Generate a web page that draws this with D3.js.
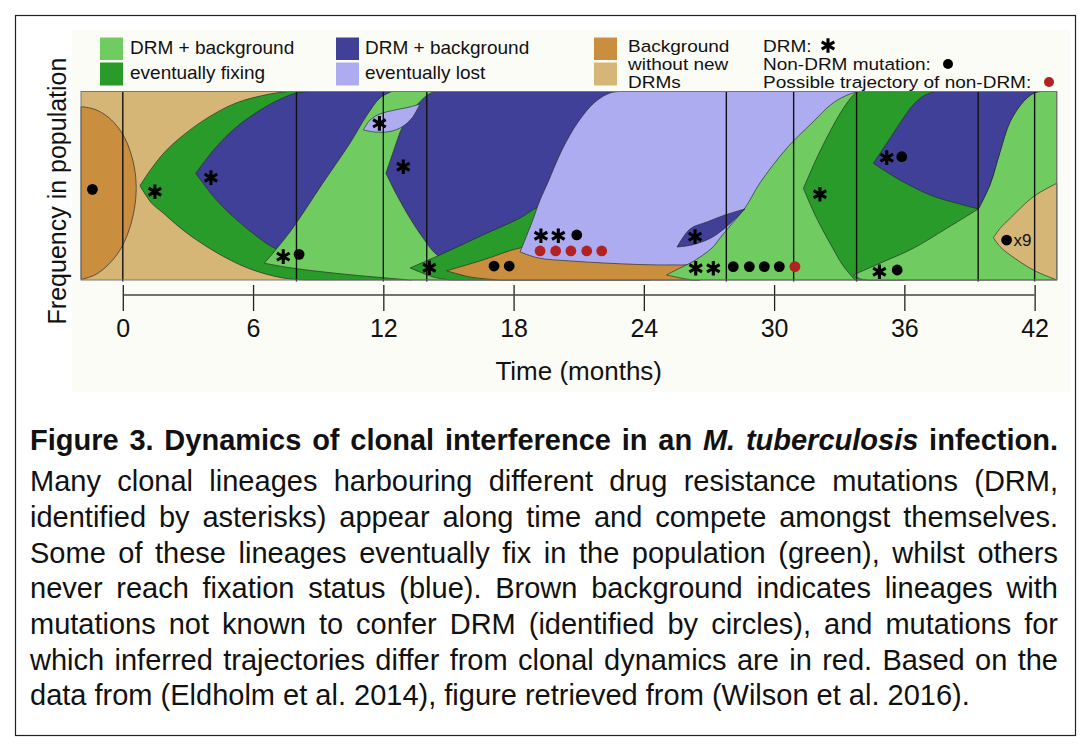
<!DOCTYPE html>
<html><head><meta charset="utf-8">
<script src="https://cdn.jsdelivr.net/npm/d3@7"></script>
<style>
html,body{margin:0;padding:0;background:#fff;}
body{width:1089px;height:746px;overflow:hidden;font-family:"Liberation Sans",Arial,Helvetica,sans-serif;}
svg{display:block;}
</style></head><body>
<svg id="chart" width="1089" height="746"></svg>
<script>
// ---------------- DATA (time in months, frequency 0..1) ----------------
const timeDomain = [-1.925, 43.02];
const tickValues = [0, 6, 12, 18, 24, 30, 36, 42];
const sampleTimes = [0, 8, 12, 14, 27.8, 30.9, 33.8, 39.4, 42];

const colLightGreen = "#70cc60", colDarkGreen = "#289b2a", colDarkBlue = "#404098",
      colLavender = "#aeacf0", colBrown = "#c98f3f", colTan = "#d6b676", colRed = "#b22222";

// each clone: list of boundary segments ("L" = straight segment)
const cloneBrown0 = [
  [[-1.925,0.92],[-1.28,0.905],[-0.68,0.865],[-0.13,0.796],[0.24,0.716],[0.47,0.631],[0.585,0.557],[0.62,0.488]],
  [[0.62,0.488],[0.585,0.419],[0.47,0.34],[0.24,0.249],[-0.13,0.159],[-0.68,0.08],[-1.28,0.027],[-1.925,0.003]],
  ["L",[-1.925,0.003],[-1.925,0.92]]
];
const cloneGreenA = [
  [[0.79,0.5],[1.33,0.593],[2.1,0.699],[3.63,0.84],[5.17,0.937],[6.7,0.985],[7.62,1]],
  ["L",[7.62,1],[13.3,1],[13.3,0],[8.39,0]],
  [[8.39,0],[7.32,0.012],[5.78,0.062],[4.25,0.15],[2.87,0.256],[1.79,0.362],[1.33,0.407],[0.79,0.5]]
];
const cloneBlueB = [
  [[3.36,0.566],[4.25,0.699],[5.17,0.805],[6.09,0.884],[7.01,0.946],[7.93,0.99],[8.62,1]],
  ["L",[8.62,1],[12.4,1],[12.4,0.117]],
  [[12.4,0.117],[10.0,0.117],[8.16,0.133],[7.01,0.168],[6.09,0.239],[5.17,0.327],[4.25,0.433],[3.36,0.566]]
];
const cloneGreenC = [
  [[6.52,0.089],[7.7,0.255],[9.22,0.515],[10.47,0.727],[11.25,0.875],[11.85,0.966],[12.4,1]],
  ["L",[12.4,1],[24.3,1],[24.3,0],[13.23,0]],
  [[13.23,0],[12.0,0.012],[10.47,0.028],[9.08,0.045],[7.7,0.065],[6.52,0.089]]
];
const cloneBlueE = [
  [[12.12,0.566],[12.46,0.681],[12.92,0.822],[13.54,0.928],[14.15,0.99],[14.47,1]],
  ["L",[14.47,1],[24.3,1],[24.3,0.053]],
  [[24.3,0.053],[18.37,0.053],[15.53,0.074],[14.47,0.133],[13.84,0.221],[13.23,0.327],[12.62,0.451],[12.12,0.566]]
];
const cloneLavenderD = [
  [[11.08,0.796],[11.39,0.849],[11.85,0.881],[12.54,0.902],[13.23,0.918],[13.69,0.934]],
  [[13.69,0.934],[13.32,0.859],[12.86,0.812],[12.31,0.788],[11.62,0.785],[11.08,0.796]]
];
const cloneGreenF = [
  [[13.23,0.064],[14.61,0.133],[16.59,0.239],[18.3,0.329],[19.13,0.387],[20.14,0.424],[26.59,0.424]],
  ["L",[26.59,0.424],[26.59,0],[15.07,0]],
  [[15.07,0],[14.29,0.016],[13.69,0.042],[13.23,0.064]]
];
const cloneBrownG = [
  [[14.92,0.049],[16.59,0.106],[18.3,0.17],[20.14,0.191],[26.59,0.191]],
  ["L",[26.59,0.191],[26.59,0],[17.37,0]],
  [[17.37,0],[15.99,0.016],[14.92,0.049]]
];
const cloneLavenderH = [
  [[18.3,0.149],[18.85,0.308],[19.22,0.424],[19.59,0.52],[20.23,0.69],[20.97,0.838],[21.75,0.944],[22.44,0.992],[22.9,1]],
  ["L",[22.9,1],[34.42,1],[34.42,0.69]],
  [[34.42,0.69],[29.35,0.318],[27.51,0.159],[26.13,0.085],[25.3,0.08],[23.82,0.082],[22.21,0.09],[20.6,0.101],[19.13,0.117],[18.3,0.149]]
];
const cloneGreenK = [
  [[25.05,0.027],[25.67,0.064],[26.22,0.095],[27.14,0.17],[27.51,0.223],[28.01,0.292],[28.66,0.382],[29.35,0.515],[30.59,0.7],[31.79,0.838],[32.71,0.939],[33.5,0.987],[33.96,1]],
  ["L",[33.96,1],[36,1],[36,0],[26.22,0]],
  [[26.22,0],[25.67,0.011],[25.05,0.027]]
];
const cloneBlueI = [
  [[25.53,0.175],[26.13,0.271],[26.91,0.308],[27.74,0.345],[28.66,0.377]],
  [[28.66,0.377],[28.34,0.34],[27.74,0.276],[27.09,0.223],[26.22,0.186],[25.53,0.175]]
];
const cloneGreenJ = [
  [[31.35,0.486],[31.96,0.646],[32.57,0.787],[33.19,0.911],[33.65,0.981],[33.86,1]],
  ["L",[33.86,1],[40.4,1],[40.4,0],[33.73,0]],
  [[33.73,0],[33.19,0.074],[32.57,0.196],[31.96,0.327],[31.35,0.486]]
];
const cloneGreenL = [
  [[33.65,0.027],[34.88,0.089],[36.41,0.168],[37.95,0.274],[39.41,0.377]],
  [[39.41,0.377],[39.94,0.504],[40.41,0.681],[40.87,0.84],[41.48,0.946],[41.94,0.99],[42.25,1]],
  ["L",[42.25,1],[43.02,1],[43.02,0],[34.42,0]],
  [[34.42,0],[34.0,0.005],[33.65,0.027]]
];
const cloneBlueM = [
  [[34.57,0.619],[35.2,0.727],[35.8,0.833],[36.4,0.928],[36.95,0.981],[37.41,1]],
  ["L",[37.41,1],[42.25,1]],
  [[42.25,1],[41.94,0.99],[41.48,0.946],[40.87,0.84],[40.41,0.681],[39.94,0.504],[39.41,0.377]],
  [[39.41,0.377],[38.71,0.398],[37.18,0.451],[35.65,0.54],[34.57,0.619]]
];
const cloneTanN = [
  [[40.1,0.224],[40.41,0.274],[40.87,0.327],[41.94,0.442],[43.02,0.513]],
  ["L",[43.02,0.513],[43.02,0]],
  [[43.02,0],[41.94,0.053],[40.87,0.133],[40.41,0.177],[40.1,0.224]]
];

const drmStars = [[1.48,0.468],[4.06,0.543],[7.39,0.124],[11.82,0.831],[12.92,0.601],[14.12,0.065],
  [19.26,0.235],[20.06,0.235],[26.36,0.23],[26.39,0.062],[27.2,0.062],[32.11,0.455],[35.19,0.649],[34.85,0.044]];
const nonDrmDots = [[-1.4,0.481],[8.12,0.136],[17.1,0.074],[17.8,0.074],[20.91,0.239],[28.12,0.071],[28.86,0.071],
  [29.55,0.071],[30.24,0.071],[35.88,0.654],[35.67,0.053],[40.71,0.212]];
const redDots = [[19.22,0.154],[19.94,0.154],[20.64,0.154],[21.37,0.154],[22.06,0.154],[30.96,0.071]];
const multiplierLabel = {t:40.71, f:0.212, text:"x9"};

const legendColors = [colLightGreen, colDarkGreen, colDarkBlue, colLavender, colBrown, colTan];
const legendLabels = [["DRM + background","eventually fixing"],["DRM + background","eventually lost"],["Background","without new","DRMs"]];
const symbolLabels = ["DRM:","Non-DRM mutation:","Possible trajectory of non-DRM:"];
const yTitle = "Frequency in population";
const xTitle = "Time (months)";
const captionLines = [
  [["Figure 3. Dynamics of clonal interference in an ","b"],["M. tuberculosis","bi"],[" infection.","b"]],
  [["Many clonal lineages harbouring different drug resistance mutations (DRM,","n"]],
  [["identified by asterisks) appear along time and compete amongst themselves.","n"]],
  [["Some of these lineages eventually fix in the population (green), whilst others","n"]],
  [["never reach fixation status (blue). Brown background indicates lineages with","n"]],
  [["mutations not known to confer DRM (identified by circles), and mutations for","n"]],
  [["which inferred trajectories differ from clonal dynamics are in red. Based on the","n"]],
  [["data from (Eldholm et al. 2014), figure retrieved from (Wilson et al. 2016).","n"]]
];

// ---------------- DRAWING ----------------
const svg = d3.select("#chart");
const FONT = "'Liberation Sans', Arial, Helvetica, sans-serif";
svg.attr("font-family", FONT);

// figure frame & backgrounds
svg.append("rect").attr("x",72).attr("y",30).attr("width",998).attr("height",362).attr("fill","#fcfcf7");
svg.append("rect").attr("x",15.5).attr("y",15.5).attr("width",1060).attr("height",720)
  .attr("fill","none").attr("stroke","#222").attr("stroke-width",1.2);

const x = d3.scaleLinear().domain([0, 42]).range([122.8, 122.8 + 42 * 21.71]);
const y = d3.scaleLinear().domain([0, 1]).range([280, 91.5]);

const segLine = d3.line().x(d => x(d[0])).y(d => y(d[1])).curve(d3.curveCatmullRom.alpha(0.5));
const linLine = d3.line().x(d => x(d[0])).y(d => y(d[1]));
function shapePath(segs) {
  let s = "";
  segs.forEach((g, i) => {
    let p = (g[0] === "L") ? linLine(g.slice(1)) : segLine(g);
    if (i > 0) p = "L" + p.slice(1);
    s += p;
  });
  return s + "Z";
}

const plot = svg.append("g");
plot.append("rect").attr("x", x(timeDomain[0])).attr("y", y(1))
  .attr("width", x(timeDomain[1]) - x(timeDomain[0])).attr("height", y(0) - y(1)).attr("fill", colTan);

const clones = [
  [cloneBrown0, colBrown], [cloneGreenA, colDarkGreen], [cloneBlueB, colDarkBlue], [cloneGreenC, colLightGreen],
  [cloneBlueE, colDarkBlue], [cloneLavenderD, colLavender], [cloneGreenF, colDarkGreen], [cloneBrownG, colBrown],
  [cloneLavenderH, colLavender], [cloneGreenK, colLightGreen], [cloneBlueI, colDarkBlue], [cloneGreenJ, colDarkGreen],
  [cloneGreenL, colLightGreen], [cloneBlueM, colDarkBlue], [cloneTanN, colTan]
];
plot.selectAll("path.clone").data(clones).join("path").attr("class","clone")
  .attr("d", d => shapePath(d[0])).attr("fill", d => d[1])
  .attr("stroke", "rgba(40,40,40,0.75)").attr("stroke-width", 0.9).attr("stroke-linejoin","round");

// sample lines
plot.selectAll("line.sample").data(sampleTimes).join("line").attr("class","sample")
  .attr("x1", d => x(d)).attr("x2", d => x(d)).attr("y1", y(1)).attr("y2", y(0) + 1.5)
  .attr("stroke", "#111").attr("stroke-width", 1.4);

// plot border
plot.append("rect").attr("x", x(timeDomain[0])).attr("y", y(1))
  .attr("width", x(timeDomain[1]) - x(timeDomain[0])).attr("height", y(0) - y(1))
  .attr("fill","none").attr("stroke","#777").attr("stroke-width",1);

// markers
const star = d3.symbol().type(d3.symbolAsterisk).size(150);
plot.selectAll("path.star").data(drmStars).join("path").attr("class","star")
  .attr("transform", d => `translate(${x(d[0])},${y(d[1])})`).attr("d", star())
  .attr("fill","none").attr("stroke","#000").attr("stroke-width",3.1);
plot.selectAll("circle.dot").data(nonDrmDots).join("circle").attr("class","dot")
  .attr("cx", d => x(d[0])).attr("cy", d => y(d[1])).attr("r", 5.4).attr("fill","#000");
plot.selectAll("circle.red").data(redDots).join("circle").attr("class","red")
  .attr("cx", d => x(d[0])).attr("cy", d => y(d[1])).attr("r", 5.4).attr("fill", colRed);
plot.append("text").attr("x", x(multiplierLabel.t) + 7).attr("y", y(multiplierLabel.f) + 6)
  .attr("font-size", 17).attr("fill","#111").text(multiplierLabel.text);

// x axis
const axisG = svg.append("g").attr("transform","translate(0,285)")
  .call(d3.axisBottom(x).tickValues(tickValues).tickSize(26).tickPadding(8).tickFormat(d3.format("d")));
axisG.select(".domain").remove();
axisG.selectAll(".tick line").attr("stroke","#222").attr("stroke-width",1.3);
axisG.selectAll(".tick text").attr("font-size",25).attr("font-family",FONT).attr("fill","#111");
svg.append("line").attr("x1", x(0)).attr("x2", x(42)).attr("y1",295).attr("y2",295)
  .attr("stroke","#444").attr("stroke-width",1.6);
svg.append("text").attr("x", x(21)).attr("y", 380).attr("text-anchor","middle")
  .attr("font-size",26).attr("fill","#111").text(xTitle);
svg.append("text").attr("transform","translate(66,191) rotate(-90)").attr("text-anchor","middle")
  .attr("font-size",25).attr("fill","#111").text(yTitle);

// legend
const lg = svg.append("g").attr("font-size",19).attr("fill","#111");
const swX = [100, 336, 594], txX = [130, 365, 628];
[0,1,2].forEach(k => {
  lg.append("rect").attr("x", swX[k]).attr("y", 37.5).attr("width", 23).attr("height", 22.5).attr("fill", legendColors[2*k]);
  lg.append("rect").attr("x", swX[k]).attr("y", 62.5).attr("width", 23).attr("height", 23).attr("fill", legendColors[2*k+1]);
});
// stacked tight text: measure natural width at 19px, then draw at a smaller size stretched to that width
function tightText(g, xx, yy, t) {
  const el = g.append("text").attr("x", xx).attr("y", yy).text(t);
  const w = el.node().getComputedTextLength();
  el.attr("font-size", 16.3).attr("textLength", w).attr("lengthAdjust", "spacingAndGlyphs");
  return el;
}
const lblY = [[54,79],[54,79]];
[0,1].forEach(k => legendLabels[k].forEach((t, j) =>
  lg.append("text").attr("x", txX[k]).attr("y", lblY[k][j]).text(t)));
const stackY = [51.5, 70, 88.2];
legendLabels[2].forEach((t, j) => tightText(lg, txX[2], stackY[j], t));
symbolLabels.forEach((t, j) => tightText(lg, 763, stackY[j], t));
lg.append("path").attr("transform","translate(828,45.5)").attr("d", star())
  .attr("fill","none").attr("stroke","#000").attr("stroke-width",3.1);
lg.append("circle").attr("cx",948).attr("cy",64).attr("r",5).attr("fill","#000");
lg.append("circle").attr("cx",1049).attr("cy",82).attr("r",5).attr("fill",colRed);

// caption (justified lines)
const capSize = 29, capLeft = 30, capRight = 1058;
const capBaselines = [450, 491, 527, 563, 598, 634, 670, 705];
const capG = svg.append("g").attr("font-size", capSize).attr("fill", "#111");
captionLines.forEach((runs, i) => {
  const words = [];
  runs.forEach(([txt, st]) => txt.split(" ").forEach(w => { if (w) words.push({w, st}); }));
  const els = words.map(d => capG.append("text").attr("y", capBaselines[i])
    .attr("font-weight", d.st.includes("b") ? "bold" : "normal")
    .attr("font-style", d.st.includes("i") ? "italic" : "normal").text(d.w));
  const widths = els.map(e => e.node().getComputedTextLength());
  const last = i === captionLines.length - 1;
  const gap = last ? capSize * 0.278 : (capRight - capLeft - d3.sum(widths)) / (words.length - 1);
  let xx = capLeft;
  els.forEach((e, k) => { e.attr("x", xx); xx += widths[k] + gap; });
});
</script>
</body></html>
